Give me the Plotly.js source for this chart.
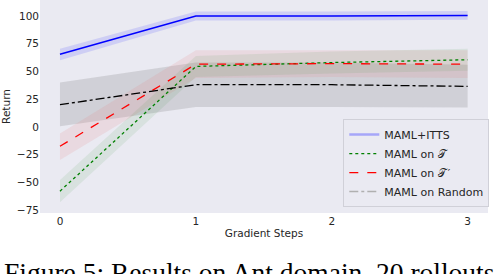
<!DOCTYPE html>
<html>
<head>
<meta charset="utf-8">
<script src="https://cdn.plot.ly/plotly-3.0.1.min.js"></script>
<style>html,body{margin:0;padding:0;background:#fff;}#chart{width:494px;height:274px;}</style>
</head>
<body>
<div id="chart"></div>
<script>
// Data
const steps = [0, 1, 2, 3];
const ittsMean = [65.5, 100, 100, 100.5];
const ittsLower = [60, 96, 96, 96.5];
const ittsUpper = [70.5, 104, 104, 104.5];
const taskMean = [-58, 54.5, 58, 60.5];
const taskLower = [-68, 45, 48, 50.5];
const taskUpper = [-48, 64, 68, 70.5];
const taskPMean = [-17.5, 56.5, 57, 56.5];
const taskPLower = [-30, 44, 45, 44];
const taskPUpper = [-6, 69, 69, 69];
const randMean = [20, 38, 38, 36.5];
const randLower = [0.5, 18, 18, 17.5];
const randUpper = [40, 58, 58, 56];
const legendNames = ['MAML+ITTS', 'MAML on 𝒯', 'MAML on 𝒯\u2009\u2032', 'MAML on Random'];
const xTicks = [0, 1, 2, 3];
const yTicks = [-75, -50, -25, 0, 25, 50, 75, 100];

function band(lower, upper, fill) {
  return [
    {x: steps, y: lower, mode: 'lines', line: {width: 0}, showlegend: false, hoverinfo: 'skip'},
    {x: steps, y: upper, mode: 'lines', line: {width: 0}, fill: 'tonexty', fillcolor: fill, showlegend: false, hoverinfo: 'skip'}
  ];
}

const traces = [].concat(
  band(randLower, randUpper, 'rgba(120,120,120,0.22)'),
  band(taskPLower, taskPUpper, 'rgba(230,120,120,0.15)'),
  band(taskLower, taskUpper, 'rgba(60,150,60,0.10)'),
  band(ittsLower, ittsUpper, 'rgba(70,70,255,0.17)'),
  [
    {x: steps, y: ittsMean, mode: 'lines', showlegend: false, line: {color: 'rgb(0,0,255)', width: 1.5}},
    {x: steps, y: taskMean, mode: 'lines', showlegend: false, line: {color: 'green', width: 1.3, dash: 'dot'}},
    {x: steps, y: taskPMean, mode: 'lines', showlegend: false, line: {color: 'red', width: 1.3, dash: 'dash'}},
    {x: steps, y: randMean, mode: 'lines', showlegend: false, line: {color: 'black', width: 1.3, dash: 'dashdot'}},
    // legend entries (lighter, as in the reference legend)
    {x: [null], y: [null], name: legendNames[0], mode: 'lines', line: {color: 'rgba(110,110,255,0.55)', width: 2.5}},
    {x: [null], y: [null], name: legendNames[1], mode: 'lines', line: {color: 'green', width: 1.3, dash: 'dot'}},
    {x: [null], y: [null], name: legendNames[2], mode: 'lines', line: {color: 'red', width: 1.3, dash: 'dash'}},
    {x: [null], y: [null], name: legendNames[3], mode: 'lines', line: {color: '#b0b0b0', width: 1.5, dash: 'dashdot'}}
  ]
);
const layout = {
  width: 494, height: 274,
  margin: {l: 40, r: 6, t: 0, b: 61},
  paper_bgcolor: '#ffffff',
  plot_bgcolor: '#EAEAF2',
  font: {family: 'DejaVu Sans', size: 10.5, color: '#262626'},
  showlegend: true,
  legend: {
    x: 0.677, y: 0.028, xanchor: 'left', yanchor: 'bottom', traceorder: 'normal',
    bgcolor: 'rgba(234,234,242,0.85)', bordercolor: '#d0d0d8', borderwidth: 1,
    font: {family: 'DejaVu Sans', size: 11, color: '#262626'},
    tracegroupgap: 0, itemwidth: 30
  },
  xaxis: {
    range: [-0.147, 3.15], tickvals: xTicks, ticktext: xTicks.map(String),
    showgrid: false, zeroline: false, showline: false, ticks: '',
    title: {text: 'Gradient Steps', font: {size: 10.5}, standoff: 4}
  },
  yaxis: {
    range: [-77.7, 114.4], tickvals: yTicks, ticktext: yTicks.map(v => v < 0 ? '\u2212' + Math.abs(v) : String(v)),
    showgrid: false, zeroline: false, showline: false, ticks: '',
    title: {text: 'Return', font: {size: 10.5}, standoff: 6}
  },
  annotations: [{
    text: 'Figure 5: Results on Ant domain. 20 rollouts',
    xref: 'paper', yref: 'paper', x: -0.085, y: -0.195, xanchor: 'left', yanchor: 'top',
    showarrow: false, font: {family: 'Liberation Serif', size: 27.5, color: '#000'}
  }]
};
Plotly.newPlot('chart', traces, layout, {staticPlot: true, displayModeBar: false});
</script>
</body>
</html>
